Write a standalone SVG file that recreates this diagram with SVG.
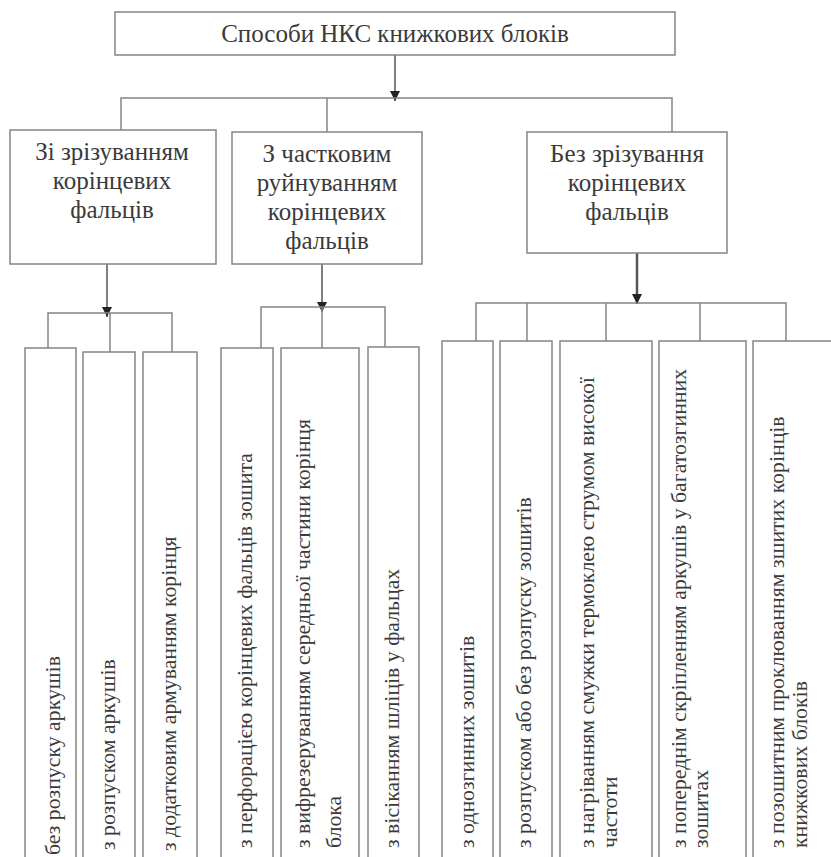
<svg xmlns="http://www.w3.org/2000/svg" width="831" height="857" viewBox="0 0 831 857">
<style>
.box{fill:#fff;stroke:#858585;stroke-width:1.5}
.hd{font-family:"Liberation Serif","DejaVu Serif",serif;font-size:25px;fill:#3a3a3a;text-anchor:middle}
.lf{font-family:"Liberation Serif","DejaVu Serif",serif;font-size:21.8px;fill:#3a3a3a}
.ln{stroke:#858585;stroke-width:1.5;fill:none}
.ar{stroke:#555;stroke-width:1.5;fill:none;marker-end:url(#ah)}
</style>
<defs>
<marker id="ah" markerUnits="userSpaceOnUse" markerWidth="10" markerHeight="10" refX="10" refY="5" orient="auto">
<path d="M0,0 L10,5 L0,10 z" fill="#222"/>
</marker>
</defs>
<rect width="831" height="857" fill="#fff"/>
<g id="connectors">
<line class="ar" x1="395" y1="55" x2="395" y2="101"/>
<polyline class="ln" points="121,130 121,98 672,98 672,132"/>
<line class="ln" x1="327" y1="98" x2="327" y2="132"/>
<line class="ar" x1="107" y1="264" x2="107" y2="317"/>
<polyline class="ln" points="48,348 48,313 172,313 172,352"/>
<line class="ln" x1="110" y1="313" x2="110" y2="352"/>
<line class="ar" x1="322" y1="264" x2="322" y2="312"/>
<polyline class="ln" points="261,348 261,307 385,307 385,347"/>
<line class="ln" x1="322" y1="307" x2="322" y2="348"/>
<line class="ar" x1="637" y1="253" x2="637" y2="304" style="stroke-width:2.5"/>
<polyline class="ln" points="476,341 476,303 786,303 786,341"/>
<line class="ln" x1="527" y1="303" x2="527" y2="341"/>
<line class="ln" x1="606" y1="303" x2="606" y2="341"/>
<line class="ln" x1="700" y1="303" x2="700" y2="341"/>
</g>
<g id="root">
<rect class="box" x="115" y="12" width="560" height="43"/>
<text class="hd" x="395" y="42">Способи НКС книжкових блоків</text>
</g>
<g id="cut">
<rect class="box" x="10" y="130" width="206" height="134"/>
<text class="hd" x="112" y="160">Зі зрізуванням</text>
<text class="hd" x="112" y="189">корінцевих</text>
<text class="hd" x="112" y="218">фальців</text>
</g>
<g id="partial">
<rect class="box" x="232" y="132" width="190" height="132"/>
<text class="hd" x="327" y="162">З частковим</text>
<text class="hd" x="327" y="191">руйнуванням</text>
<text class="hd" x="327" y="220">корінцевих</text>
<text class="hd" x="327" y="249">фальців</text>
</g>
<g id="nocut">
<rect class="box" x="527" y="132" width="200" height="121"/>
<text class="hd" x="627" y="162">Без зрізування</text>
<text class="hd" x="627" y="191">корінцевих</text>
<text class="hd" x="627" y="220">фальців</text>
</g>
<g id="l1">
<rect class="box" x="25" y="348" width="51" height="530"/>
<text class="lf" transform="translate(60,855) rotate(-90)">без розпуску аркушів</text>
</g>
<g id="l2">
<rect class="box" x="83" y="352" width="52" height="530"/>
<text class="lf" transform="translate(115,850) rotate(-90)">з розпуском аркушів</text>
</g>
<g id="l3">
<rect class="box" x="143" y="352" width="54" height="530"/>
<text class="lf" transform="translate(176,851) rotate(-90)">з додатковим армуванням корінця</text>
</g>
<g id="m1">
<rect class="box" x="221" y="348" width="52" height="530"/>
<text class="lf" transform="translate(252,848) rotate(-90)">з перфорацією корінцевих фальців зошита</text>
</g>
<g id="m2">
<rect class="box" x="281" y="348" width="78" height="530"/>
<text class="lf" transform="translate(310,848) rotate(-90)">з вифрезеруванням середньої частини корінця</text>
<text class="lf" transform="translate(341,848) rotate(-90)">блока</text>
</g>
<g id="m3">
<rect class="box" x="368" y="347" width="51" height="530"/>
<text class="lf" transform="translate(399,848) rotate(-90)">з вісіканням шліців у фальцах</text>
</g>
<g id="r1">
<rect class="box" x="442" y="341" width="51" height="530"/>
<text class="lf" transform="translate(474,848) rotate(-90)">з однозгинних зошитів</text>
</g>
<g id="r2">
<rect class="box" x="500" y="341" width="52" height="530"/>
<text class="lf" transform="translate(531,848) rotate(-90)">з розпуском або без розпуску зошитів</text>
</g>
<g id="r3">
<rect class="box" x="560" y="341" width="92" height="530"/>
<text class="lf" transform="translate(594,848) rotate(-90)">з нагріванням смужки термоклею струмом високої</text>
<text class="lf" transform="translate(617,848) rotate(-90)">частоти</text>
</g>
<g id="r4">
<rect class="box" x="659" y="341" width="87" height="530"/>
<text class="lf" transform="translate(686,848) rotate(-90)">з попереднім скріпленням аркушів у багатозгинних</text>
<text class="lf" transform="translate(708,848) rotate(-90)">зошитах</text>
</g>
<g id="r5">
<rect class="box" x="753" y="341" width="90" height="530"/>
<text class="lf" transform="translate(784,848) rotate(-90)">з позошитним проклюванням зшитих корінців</text>
<text class="lf" transform="translate(807,848) rotate(-90)">книжкових блоків</text>
</g>
</svg>
